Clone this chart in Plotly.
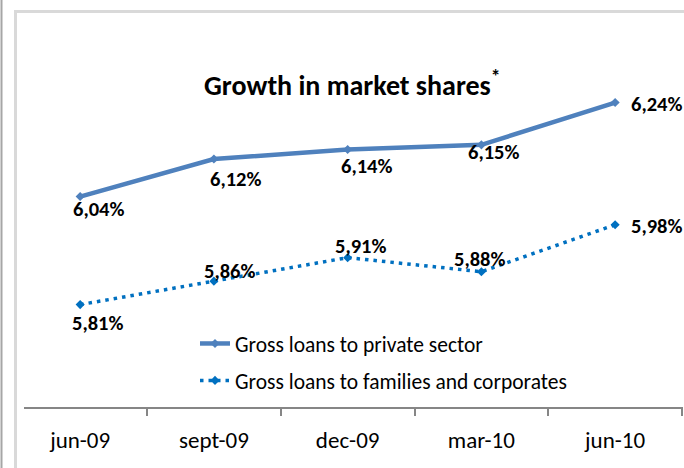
import plotly.graph_objects as go

# ---- data ----
categories = ["jun-09", "sept-09", "dec-09", "mar-10", "jun-10"]
private_sector = [6.04, 6.12, 6.14, 6.15, 6.24]
families_corporates = [5.81, 5.86, 5.91, 5.88, 5.98]
series_names = ["Gross loans to private sector", "Gross loans to families and corporates"]
title_text = "Growth in market shares<sup>*</sup>"

# label offsets (pixels) relative to each point: (dx, dy up)
off_private = [(18, -12), (22, -20), (19, -16), (12, -7), (41, -1)]
off_families = [(17, -18), (16, 10), (13, 12), (-2, 13), (41, -1)]

W, H = 684, 468
FONT = "Carlito, Calibri, Lato, sans-serif"

def px(x):
    return x / W

def py(y):
    return 1 - y / H

fig = go.Figure()
fig.add_trace(go.Scatter(
    x=categories, y=private_sector, name=series_names[0], mode="lines+markers",
    line=dict(color="#4F81BD", width=4.5),
    marker=dict(symbol="diamond", size=7, color="#4F81BD"),
    legendgroup="a",
))
fig.add_trace(go.Scatter(
    x=categories, y=families_corporates, name=series_names[1], mode="lines+markers",
    line=dict(color="#0070C0", width=3.5, dash="3.5px,5px"),
    marker=dict(symbol="diamond", size=7, color="#0070C0"),
    legendgroup="b",
))

ann = []
for vals, offs in ((private_sector, off_private), (families_corporates, off_families)):
    for c, v, (dx, dy) in zip(categories, vals, offs):
        ann.append(dict(x=c, y=v, xref="x", yref="y", text=f"{v:.2f}%".replace(".", ","),
                        showarrow=False, xshift=dx, yshift=dy,
                        font=dict(family=FONT, size=20.5, color="#000000", weight="bold")))
ann.append(dict(x=px(352), y=py(83), xref="paper", yref="paper", text=title_text,
                xanchor="center", yanchor="middle",
                showarrow=False, font=dict(family=FONT, size=28, color="#000000", weight="bold")))

shapes = [
    # outer slide line
    dict(type="line", xref="paper", yref="paper", x0=px(1.5), x1=px(1.5), y0=0, y1=1,
         line=dict(color="#A6A6A6", width=2)),
    # chart frame left and top
    dict(type="line", xref="paper", yref="paper", x0=px(15.5), x1=px(15.5), y0=0, y1=py(11.5),
         line=dict(color="#D9D9D9", width=3)),
    dict(type="line", xref="paper", yref="paper", x0=px(14), x1=1, y0=py(11.5), y1=py(11.5),
         line=dict(color="#D9D9D9", width=3)),
    # category axis line
    dict(type="line", xref="paper", yref="paper", x0=px(24), x1=px(683), y0=py(408), y1=py(408),
         line=dict(color="#868686", width=2)),
]

xdom = [13.3 / W, 682 / W]
fig.update_layout(
    width=W, height=H,
    margin=dict(l=0, r=0, t=0, b=0),
    paper_bgcolor="white", plot_bgcolor="white",
    showlegend=True,
    legend=dict(x=px(195), y=py(323), xanchor="left", yanchor="top",
                font=dict(family=FONT, size=21.5, color="#000000"),
                tracegroupgap=6, bgcolor="rgba(0,0,0,0)"),
    xaxis=dict(domain=xdom, range=[-0.5, 4.5], showgrid=False, zeroline=False,
               showline=False, ticks="", ticklabelstandoff=16,
               tickfont=dict(family=FONT, size=23, color="#000000")),
    xaxis2=dict(domain=xdom, range=[-0.5, 4.5], overlaying="x", anchor="y",
                tickvals=[0.5, 1.5, 2.5, 3.5, 4.5], showticklabels=False,
                ticks="outside", ticklen=7, tickwidth=2, tickcolor="#868686",
                showgrid=False, zeroline=False, showline=False, side="bottom"),
    yaxis=dict(domain=[1 - 408 / H, 1 - 10 / H], range=[5.590, 6.437], visible=False),
    annotations=ann, shapes=shapes,
)
# invisible trace to activate xaxis2
fig.add_trace(go.Scatter(x=[0], y=[6.0], xaxis="x2", mode="markers",
                         marker=dict(opacity=0), showlegend=False, hoverinfo="skip"))

fig.write_html("out.html", config={"displayModeBar": False},
               post_script="document.body.style.margin='0px';")
